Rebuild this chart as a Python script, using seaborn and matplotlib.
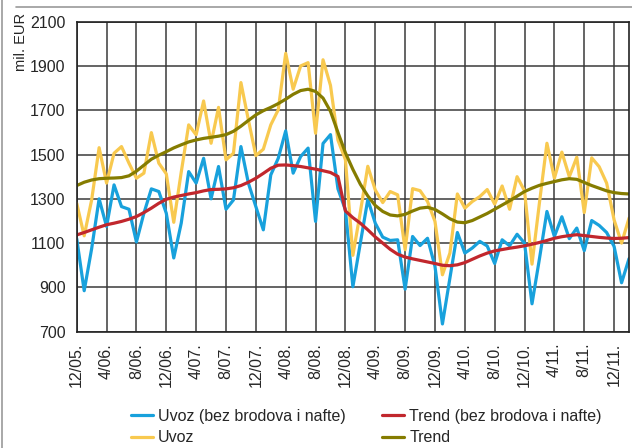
import numpy as np
import pandas as pd
import matplotlib
matplotlib.use("Agg")
import matplotlib.pyplot as plt
from matplotlib.lines import Line2D
import seaborn as sns

# --- Data (monthly, 12/2005 - 2/2012, mil. EUR) ---
mjesec = list(range(75))
oznake = ["12/05.", "4/06.", "8/06.", "12/06.", "4/07.", "8/07.", "12/07.",
          "4/08.", "8/08.", "12/08.", "4/09.", "8/09.", "12/09.", "4/10.",
          "8/10.", "12/10.", "4/11.", "8/11.", "12/11."]

uvoz_bez = [1120, 885, 1075, 1300, 1175, 1363, 1265, 1253, 1105, 1235,
            1345, 1333, 1235, 1033, 1190, 1423, 1371, 1483, 1300, 1446,
            1253, 1295, 1536, 1371, 1265, 1160, 1408, 1483, 1607, 1416,
            1491, 1529, 1198, 1550, 1590, 1345, 1250, 903, 1100, 1297,
            1190, 1127, 1112, 1115, 892, 1130, 1089, 1122, 995, 735,
            942, 1148, 1055, 1078, 1108, 1087, 1008, 1115, 1088, 1140,
            1100, 826, 1030, 1243, 1130, 1219, 1120, 1168, 1066, 1202,
            1180, 1148, 1085, 921, 1030]

uvoz = [1280, 1133, 1295, 1531, 1371, 1506, 1536, 1461, 1393, 1416,
        1599, 1461, 1413, 1194, 1420, 1634, 1589, 1742, 1551, 1713,
        1476, 1506, 1825, 1656, 1495, 1524, 1634, 1702, 1957, 1795,
        1900, 1915, 1596, 1928, 1812, 1565, 1477, 1045, 1240, 1447,
        1340, 1283, 1333, 1318, 1070, 1346, 1337, 1288, 1198, 957,
        1055, 1322, 1258, 1288, 1310, 1342, 1276, 1358, 1253, 1400,
        1336, 1005, 1283, 1551, 1393, 1511, 1400, 1488, 1238, 1485,
        1445, 1371, 1205, 1100, 1213]

trend_bez = [1137, 1148, 1160, 1172, 1183, 1190, 1198, 1208, 1220, 1238,
             1258, 1280, 1298, 1308, 1315, 1322, 1328, 1336, 1342, 1343,
             1345, 1350, 1360, 1375, 1393, 1415, 1438, 1452, 1453, 1450,
             1446, 1440, 1434, 1427, 1419, 1401, 1245, 1215, 1190, 1160,
             1128, 1100, 1072, 1050, 1037, 1029, 1022, 1015, 1008, 1000,
             998, 1002, 1012, 1027, 1042, 1055, 1065, 1071, 1077, 1082,
             1088, 1095, 1103, 1112, 1122, 1129, 1134, 1138, 1134, 1130,
             1126, 1123, 1121, 1122, 1125]

trend = [1360, 1375, 1385, 1391, 1393, 1394, 1396, 1404, 1425, 1452,
         1479, 1497, 1513, 1530, 1544, 1557, 1566, 1573, 1578, 1583,
         1590, 1605, 1628, 1654, 1679, 1698, 1713, 1730, 1750, 1772,
         1789, 1795, 1785, 1755, 1695, 1600, 1508, 1433, 1366, 1313,
         1270, 1243, 1227, 1223, 1230, 1245, 1258, 1262, 1252, 1232,
         1210, 1195, 1192, 1202, 1218, 1234, 1253, 1272, 1291, 1312,
         1333, 1348, 1361, 1370, 1378, 1386, 1391, 1388, 1374, 1360,
         1348, 1336, 1328, 1324, 1322]

df = pd.DataFrame({"mjesec": mjesec, "uvoz_bez": uvoz_bez, "uvoz": uvoz,
                   "trend_bez": trend_bez, "trend": trend})

serije = [("uvoz_bez", "Uvoz (bez brodova i nafte)", "#18a1dc"),
          ("uvoz", "Uvoz", "#f8c94f"),
          ("trend_bez", "Trend (bez brodova i nafte)", "#c1272d"),
          ("trend", "Trend", "#857c00")]

# --- Style ---
sns.set_style("white")
plt.rcParams["font.family"] = ["Liberation Sans Narrow", "Liberation Sans", "DejaVu Sans"]
plt.rcParams["font.size"] = 11.5

fig = plt.figure(figsize=(6.32, 4.48), dpi=100)
ax = fig.add_axes([0.1214, 0.2596, 0.8739, 0.692])

for col, label, color in serije:
    sns.lineplot(data=df, x="mjesec", y=col, color=color, linewidth=2.3,
                 ax=ax, label=label, legend=False)

ax.set_xlim(0, 74)
ax.set_ylim(700, 2100)
ax.set_xticks(range(0, 75, 4))
ax.set_xticklabels(oznake, rotation=90, fontsize=11.5)
ax.set_yticks(range(700, 2101, 200))
ax.tick_params(axis="y", labelsize=11.5)
ax.tick_params(length=0, pad=8)
ax.set_xlabel("")
ax.set_ylabel("")
ax.grid(True, color="#3a3a3a", linewidth=1.1)
ax.set_axisbelow(True)
for s in ax.spines.values():
    s.set_color("#222222")
    s.set_linewidth(1.2)

fig.text(21 / 632, 1 - 42 / 448, "mil. EUR", rotation=90, ha="center",
         va="center", fontsize=10.5)

# frame lines of the original box
fig.add_artist(Line2D([16 / 632, 1], [1 - 7 / 448, 1 - 7 / 448],
                      color="#9a9a9a", lw=1.2))
fig.add_artist(Line2D([2 / 632, 2 / 632], [0, 1], color="#9a9a9a", lw=1.2))

# --- Legend (two columns) ---
h = [Line2D([], [], color=c, lw=2.3) for _, _, c in serije]
lab = [l for _, l, _ in serije]
for k, x0 in enumerate([131, 382]):
    fig.legend(h[2 * k:2 * k + 2], lab[2 * k:2 * k + 2], loc="center left",
               bbox_to_anchor=(x0 / 632, 1 - 427 / 448), frameon=False,
               fontsize=11.5, handlelength=1.35, handletextpad=0.35,
               labelspacing=0.4, borderpad=0, borderaxespad=0)

fig.savefig("out.png", dpi=100)
